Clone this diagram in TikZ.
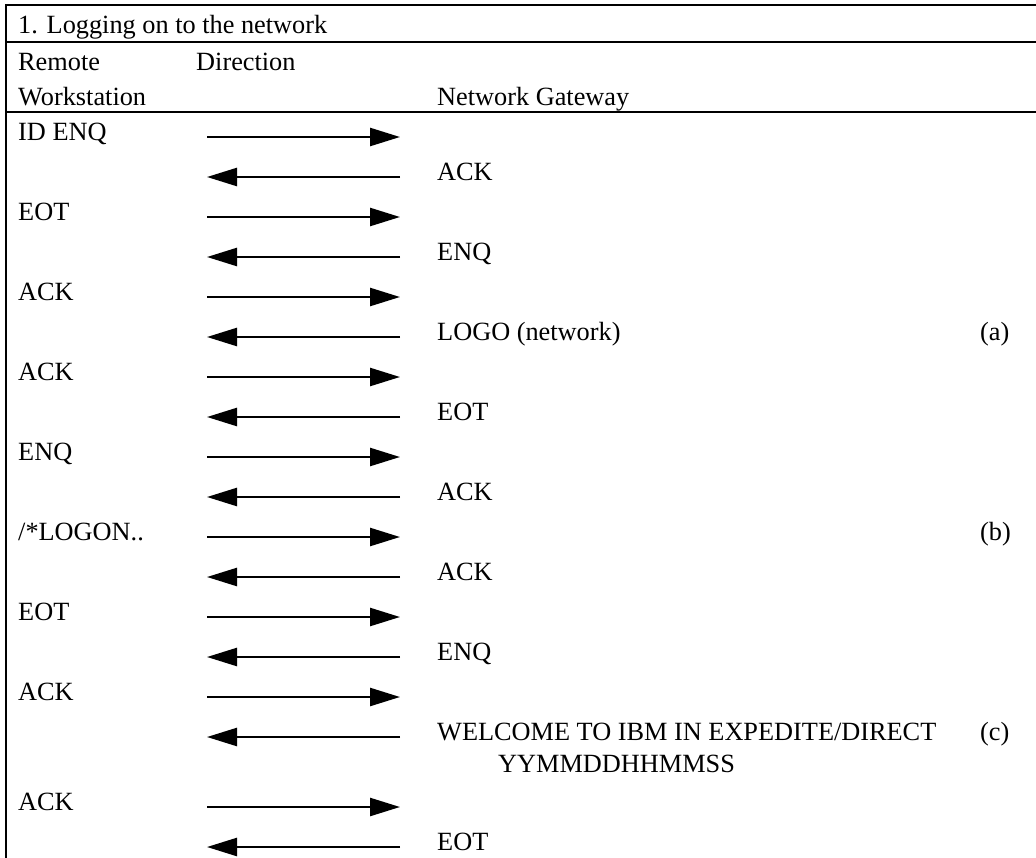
\documentclass[tikz,border=0pt]{standalone}
\usepackage{fontspec}
\setmainfont{Liberation Serif}
\usetikzlibrary{arrows.meta}

\tikzset{
  rule/.style={line width=2bp},
  msg/.style={line width=2.5bp,-{Triangle[length=30bp,width=18bp]}},
  txt/.style={anchor=base west,inner sep=0pt,font=\fontsize{26.3bp}{31bp}\selectfont},
}

\begin{document}
\begin{tikzpicture}[x=1bp,y=-1bp]
    \useasboundingbox (0,0) rectangle (1036,858);
    % frame
    \draw[rule] (1036,5) -- (6,5) -- (6,858);
    \draw[rule] (6,42) -- (1036,42);
    \draw[rule] (6,112) -- (1036,112);
    % heading
    \node[txt] (title) at (18,33) {1. Logging on to the network};
    \node[txt] (remote) at (18,70) {Remote};
    \node[txt] (dirhead) at (196,70) {Direction};
    \node[txt] (wkst) at (18,105) {Workstation};
    \node[txt] (gwhead) at (437,105) {Network Gateway};
    % messages
    \foreach \i/\y/\tx/\from/\to/\lbl in {
        1/140/18/ws/gw/ID ENQ, 2/180/437/gw/ws/ACK,
        3/220/18/ws/gw/EOT, 4/260/437/gw/ws/ENQ,
        5/300/18/ws/gw/ACK, 6/340/437/gw/ws/LOGO (network),
        7/380/18/ws/gw/ACK, 8/420/437/gw/ws/EOT,
        9/460/18/ws/gw/ENQ, 10/500/437/gw/ws/ACK,
        11/540/18/ws/gw/{/*LOGON..}, 12/580/437/gw/ws/ACK,
        13/620/18/ws/gw/EOT, 14/660/437/gw/ws/ENQ,
        15/700/18/ws/gw/ACK, 16/740/437/gw/ws/{WELCOME TO IBM IN EXPEDITE/DIRECT},
        17/810/18/ws/gw/ACK, 18/850/437/gw/ws/EOT}{
        \coordinate (ws\i) at (207,\y-3);
        \coordinate (gw\i) at (400,\y-3);
        \node[txt] (msg\i) at (\tx,\y) {\lbl};
        \draw[msg] (\from\i) -- (\to\i);
    }
    \node[txt] (stamp) at (498,772) {YYMMDDHHMMSS};
    % notes
    \node[txt] (nota) at (980,340) {(a)};
    \node[txt] (notb) at (980,540) {(b)};
    \node[txt] (notc) at (980,740) {(c)};
\end{tikzpicture}
\end{document}
